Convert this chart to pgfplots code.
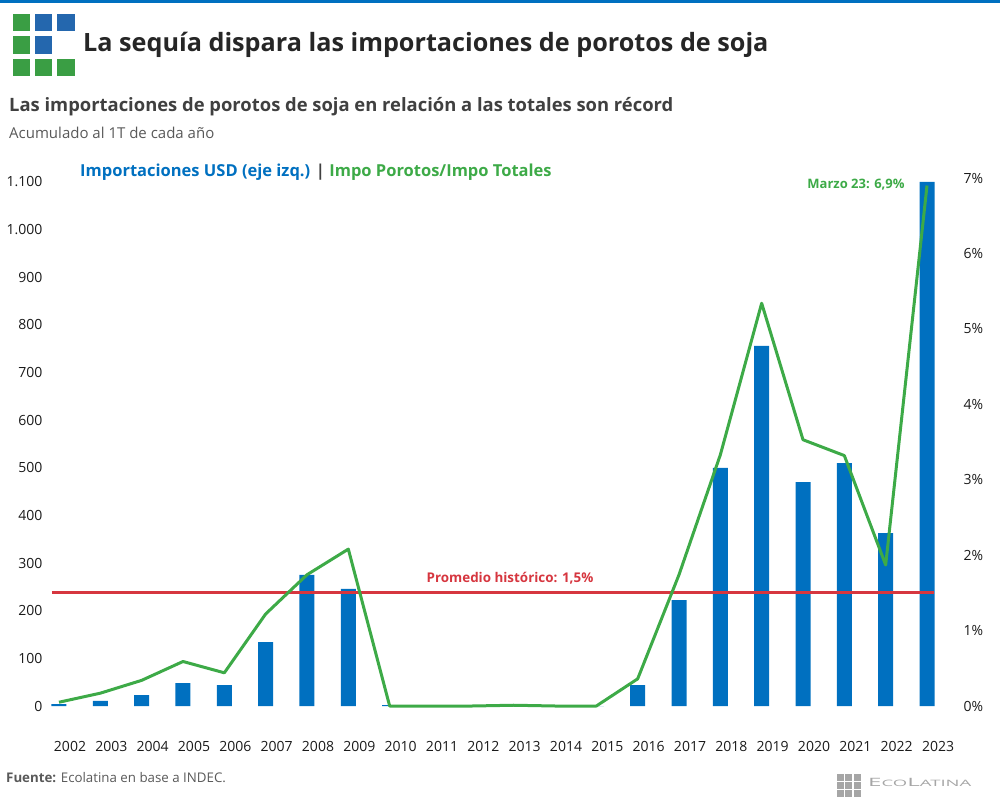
\documentclass[border=0pt]{standalone}
\usepackage{pgfplots}
\pgfplotsset{compat=1.18}
\usepackage{pgfplotstable}
\usepackage{graphicx}
\usepackage{fontspec}
\setmainfont{Open Sans}
\definecolor{barblue}{HTML}{0070C0}
\definecolor{lgreen}{HTML}{3DAA47}
\definecolor{avgred}{HTML}{D6363F}
\definecolor{logogreen}{HTML}{3A9E44}
\definecolor{logoblue}{HTML}{2467AE}
\definecolor{titlecol}{HTML}{262626}
\definecolor{subcol}{HTML}{404040}
\definecolor{graytxt}{HTML}{595959}
\definecolor{tickcol}{HTML}{1A1A1A}
\definecolor{ecogray}{HTML}{A6A6A6}

\pgfplotstableread{
x usd pct
0 4 0.05
1 11 0.17
2 23 0.34
3 48 0.59
4 44 0.44
5 134 1.22
6 275 1.74
7 246 2.08
8 2 0.0
9 0 0.0
10 0 0.0
11 0 0.01
12 0 0.0
13 0 0.0
14 44 0.36
15 222 1.74
16 500 3.33
17 756 5.34
18 470 3.53
19 510 3.32
20 363 1.87
21 1100 6.9
}\data

\begin{document}
\begin{tikzpicture}
\path[use as bounding box] (0pt,0pt) rectangle (1000pt,800pt);
\fill[barblue] (0pt,797pt) rectangle (1000pt,800pt);
% logo
\foreach \c/\r/\col in {0/0/logogreen,1/0/logoblue,2/0/logoblue,0/1/logogreen,1/1/logoblue,0/2/logogreen,1/2/logogreen,2/2/logogreen}{
  \fill[\col] ({(12.5+22.3*\c)*1pt},{(786-22.4*\r)*1pt}) rectangle ++(17.5pt,-17.5pt);
}
\node[anchor=west, inner sep=0, font=\fontsize{25.2}{29}\selectfont\bfseries, text=titlecol] at (83pt,755pt) {La sequía dispara las importaciones de porotos de soja};
\node[anchor=west, inner sep=0, font=\fontsize{18.4}{21}\selectfont\bfseries, text=subcol] at (9pt,693pt) {Las importaciones de porotos de soja en relación a las totales son récord};
\node[anchor=west, inner sep=0, font=\fontsize{15}{18}\selectfont, text=graytxt] at (9pt,667pt) {Acumulado al 1T de cada año};
\node[anchor=west, inner sep=0, font=\fontsize{16.5}{19}\selectfont\bfseries] at (80pt,628pt) {\textcolor{barblue}{Importaciones USD (eje izq.)} \textcolor{subcol}{|} \textcolor{lgreen}{Impo Porotos/Impo Totales}};
\node[anchor=west, inner sep=0, font=\fontsize{13.3}{16}\selectfont, text=graytxt] at (6pt,22pt) {\textbf{Fuente:} Ecolatina en base a INDEC.};
% footer logo
\foreach \c in {0,1,2}{\foreach \r in {0,1,2}{
  \fill[ecogray] ({(837+8.3*\c)*1pt},{(26.5-8.3*\r)*1pt}) rectangle ++(7pt,-7pt);
}}
\node[anchor=west, inner sep=0, text=ecogray] at (868pt,18pt) {\scalebox{2.1}[1]{\fontsize{11.5}{14}\selectfont E\fontsize{8.8}{11}\selectfont CO\fontsize{11.5}{14}\selectfont L\fontsize{8.8}{11}\selectfont ATINA}};

\begin{axis}[
  at={(48pt,94pt)}, anchor=south west,
  scale only axis, width=910pt, height=528pt,
  xmin=-0.266, xmax=21.75, ymin=0, ymax=1108.3,
  axis line style={draw=none}, major tick length=0pt,
  xtick={0,...,21},
  xticklabels={2002,2003,2004,2005,2006,2007,2008,2009,2010,2011,2012,2013,2014,2015,2016,2017,2018,2019,2020,2021,2022,2023},
  xticklabel style={font=\fontsize{14}{16}\selectfont, text=tickcol, xshift=11pt, yshift=-32pt},
  ytick={0,100,...,1100},
  yticklabels={0,100,200,300,400,500,600,700,800,900,1.000,1.100},
  yticklabel style={font=\fontsize{14}{16}\selectfont, text=tickcol, xshift=-2pt},
  axis y line*=left,
]
\addplot[ybar, bar width=15pt, fill=barblue, draw=none] table[x=x, y=usd] {\data};
\end{axis}

\begin{axis}[
  at={(48pt,94pt)}, anchor=south west,
  scale only axis, width=910pt, height=528pt,
  xmin=-0.266, xmax=21.75, ymin=0, ymax=7,
  axis line style={draw=none}, major tick length=0pt,
  axis y line*=right, axis x line=none,
  ytick={0,...,7},
  yticklabels={0\%,1\%,2\%,3\%,4\%,5\%,6\%,7\%},
  yticklabel style={font=\fontsize{14}{16}\selectfont, text=tickcol, xshift=2pt},
  clip=false,
]
\addplot[avgred, line width=3pt] coordinates {(-0.17,1.5) (21.17,1.5)};
\addplot[lgreen, line width=3pt, line join=round] table[x=x, y=pct] {\data};
\end{axis}
\node[font=\fontsize{13.4}{16}\selectfont\bfseries, text=avgred] at (510pt,222pt) {Promedio histórico: 1,5\%};
\node[font=\fontsize{13}{16}\selectfont\bfseries, text=lgreen] at (856pt,615pt) {Marzo 23: 6,9\%};
\end{tikzpicture}
\end{document}
